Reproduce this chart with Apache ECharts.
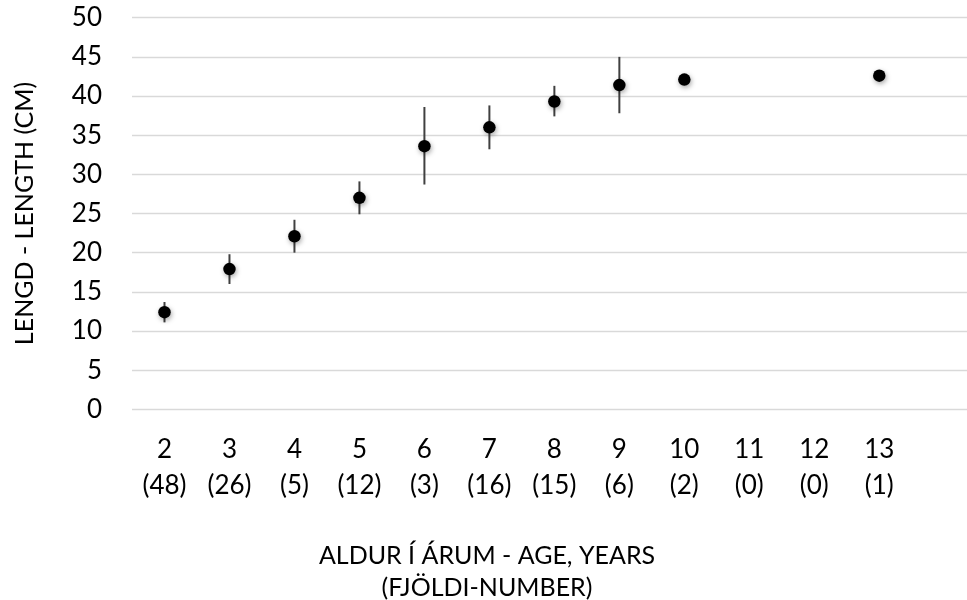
<!DOCTYPE html>
<html>
<head>
<meta charset="utf-8">
<script src="https://cdn.jsdelivr.net/npm/echarts@6/dist/echarts.min.js"></script>
<style>
  html, body { margin: 0; padding: 0; background: #fff; }
  #chart { width: 967px; height: 600px; }
</style>
</head>
<body>
<div id="chart"></div>
<script>
// Age classes (years) and number of fish in each class
const ages = [2, 3, 4, 5, 6, 7, 8, 9, 10, 11, 12, 13];
const counts = [48, 26, 5, 12, 3, 16, 15, 6, 2, 0, 0, 1];
// Mean length (cm) per age class; null where no fish were measured
const meanLength = [12.4, 17.9, 22.1, 27.0, 33.6, 36.0, 39.3, 41.4, 42.1, null, null, 42.6];
// Error bar limits (cm); null where no bar is drawn
const barLow = [11.1, 16.0, 20.0, 24.9, 28.7, 33.2, 37.4, 37.8, null, null, null, null];
const barHigh = [13.7, 19.8, 24.2, 29.1, 38.6, 38.8, 41.3, 45.0, null, null, null, null];
// Y axis ticks
const yTicks = { min: 0, max: 50, interval: 5 };

const FONT = 'Lato';
const TXT = '#000000';

const points = ages.map((a, i) => [a, meanLength[i]]).filter(d => d[1] != null);
const bars = ages.map((a, i) => [a, barLow[i], barHigh[i]]).filter(d => d[1] != null);

const chart = echarts.init(document.getElementById('chart'), null, { renderer: 'canvas' });
chart.setOption({
  animation: false,
  backgroundColor: '#ffffff',
  title: {
    text: 'ALDUR Í ÁRUM - AGE, YEARS\n(FJÖLDI-NUMBER)',
    left: 482,
    top: 535,
    textAlign: 'center',
    textStyle: { fontFamily: FONT, fontSize: 25, fontWeight: 'normal', color: TXT, lineHeight: 32 }
  },
  grid: { left: 132, right: 0, top: 17.7, bottom: 190.7, containLabel: false },
  xAxis: {
    type: 'value',
    min: 1.5,
    max: 14.35,
    splitLine: { show: false },
    axisLine: { show: false },
    axisTick: { show: false },
    axisLabel: {
      customValues: ages,
      margin: 22,
      fontFamily: FONT,
      fontSize: 26,
      color: TXT,
      lineHeight: 36,
      formatter: v => {
        const i = ages.indexOf(v);
        return i < 0 ? '' : v + '\n(' + counts[i] + ')';
      }
    }
  },
  yAxis: {
    type: 'value',
    min: yTicks.min,
    max: yTicks.max,
    interval: yTicks.interval,
    name: 'LENGD - LENGTH (CM)',
    nameLocation: 'middle',
    nameGap: 95,
    nameTextStyle: { fontFamily: FONT, fontSize: 25, color: TXT },
    axisLine: { show: false },
    axisTick: { show: false },
    axisLabel: { margin: 30, fontFamily: FONT, fontSize: 26, color: TXT },
    splitLine: { lineStyle: { color: '#d9d9d9', width: 1.3 } }
  },
  series: [
    {
      name: 'error',
      type: 'custom',
      data: bars,
      z: 2,
      renderItem: (params, api) => {
        const top = api.coord([api.value(0), api.value(2)]);
        const bot = api.coord([api.value(0), api.value(1)]);
        return {
          type: 'line',
          shape: { x1: top[0], y1: top[1], x2: bot[0], y2: bot[1] },
          style: { stroke: '#404040', lineWidth: 2 }
        };
      }
    },
    {
      name: 'mean',
      type: 'scatter',
      data: points,
      z: 3,
      symbol: 'circle',
      symbolSize: 12.5,
      itemStyle: {
        color: '#000000',
        opacity: 1,
        shadowColor: 'rgba(0,0,0,0.35)',
        shadowBlur: 5,
        shadowOffsetX: 1,
        shadowOffsetY: 2
      }
    }
  ]
});
</script>
</body>
</html>
